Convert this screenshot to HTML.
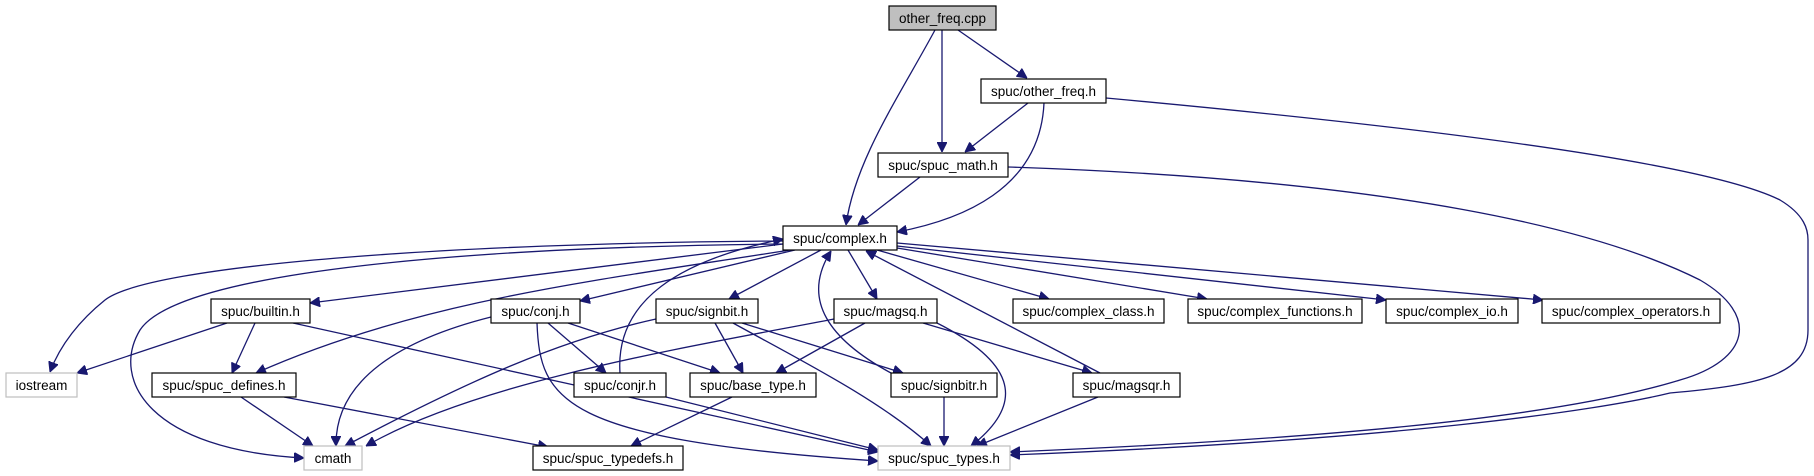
<!DOCTYPE html>
<html><head><meta charset="utf-8"><style>
html,body{margin:0;padding:0;background:#fff;}
svg{display:block;}
text{font-family:"Liberation Sans",Arial,sans-serif;font-size:13.5px;fill:#000;text-anchor:middle;}
.e{fill:none;stroke:#191970;stroke-width:1.3;marker-end:url(#a);}
.n{fill:#fff;stroke:#000;stroke-width:1.2;}
.g{fill:#fff;stroke:#bfbfbf;stroke-width:1.2;}
</style></head><body>
<svg width="1814" height="476" viewBox="0 0 1814 476" xmlns="http://www.w3.org/2000/svg">
<defs><marker id="a" viewBox="0 0 10 10" refX="10" refY="5" markerWidth="10" markerHeight="10" markerUnits="userSpaceOnUse" orient="auto"><path d="M0,0 L10,5 L0,10 z" fill="#191970" stroke="#191970"/></marker></defs>

<!-- edges -->
<path class="e" d="M935,30 C900,95 855,160 846,225"/>
<path class="e" d="M942,30 L942,152"/>
<path class="e" d="M958,30 L1027,78"/>
<path class="e" d="M1028,103 L965,152"/>
<path class="e" d="M1044,103 C1040,190 960,220 897,232"/>
<path class="e" d="M920,177 L858,225"/>
<path class="e" d="M1106,98 C1400,125 1700,160 1780,200 C1805,215 1808,230 1808,240 L1808,330 C1808,375 1760,385 1670,393 C1600,410 1400,440 1010,455"/>
<path class="e" d="M1008,167 C1400,180 1600,230 1700,280 C1760,315 1750,360 1680,380 C1550,420 1300,440 1010,452"/>

<path class="e" d="M783,241 C450,243 150,265 105,300 C80,320 60,345 50,372"/>
<path class="e" d="M783,244 C480,247 180,270 140,330 C110,380 150,450 304,458"/>
<path class="e" d="M783,244 L310,303"/>
<path class="e" d="M790,250 C600,280 420,300 256,373"/>
<path class="e" d="M795,250 L580,301"/>
<path class="e" d="M821,250 L729,299"/>
<path class="e" d="M848,250 L877,299"/>
<path class="e" d="M877,250 L1049,299"/>
<path class="e" d="M897,248 L1207,299"/>
<path class="e" d="M897,246 L1386,300"/>
<path class="e" d="M897,243 L1543,300"/>

<path class="e" d="M620,373 C615,300 680,260 783,239"/>
<path class="e" d="M1100,373 L866,251"/>
<path class="e" d="M891,373 C830,340 800,300 831,251"/>

<path class="e" d="M227,323 L77,373"/>
<path class="e" d="M255,323 L232,373"/>
<path class="e" d="M293,323 L878,452"/>
<path class="e" d="M241,397 L313,446"/>
<path class="e" d="M284,397 L548,447"/>
<path class="e" d="M491,317 C400,340 335,380 336,446"/>
<path class="e" d="M548,323 L606,373"/>
<path class="e" d="M568,323 L720,373"/>
<path class="e" d="M537,323 C540,400 560,440 878,461"/>
<path class="e" d="M656,319 C560,340 470,380 345,446"/>
<path class="e" d="M715,323 L743,373"/>
<path class="e" d="M742,323 L903,373"/>
<path class="e" d="M733,323 C800,360 880,400 931,446"/>
<path class="e" d="M834,319 C700,345 480,380 366,446"/>
<path class="e" d="M865,323 L776,373"/>
<path class="e" d="M923,323 L1092,373"/>
<path class="e" d="M937,323 C1010,360 1030,400 971,446"/>
<path class="e" d="M666,397 L878,450"/>
<path class="e" d="M732,397 L631,446"/>
<path class="e" d="M944,397 L944,446"/>
<path class="e" d="M1098,397 L977,446"/>

<!-- nodes -->
<rect x="889" y="6" width="107" height="24" fill="#bfbfbf" stroke="#000" stroke-width="1.2"/><text x="942.5" y="23">other_freq.cpp</text>
<rect class="n" x="981" y="79" width="125" height="24"/><text x="1043.5" y="96">spuc/other_freq.h</text>
<rect class="n" x="878" y="153" width="130" height="24"/><text x="943" y="170">spuc/spuc_math.h</text>
<rect class="n" x="783" y="226" width="114" height="24" stroke-width="1.6"/><text x="840" y="243">spuc/complex.h</text>

<rect class="n" x="211" y="299" width="99" height="24"/><text x="260.5" y="316">spuc/builtin.h</text>
<rect class="n" x="491" y="299" width="89" height="24"/><text x="535.5" y="316">spuc/conj.h</text>
<rect class="n" x="656" y="299" width="102" height="24"/><text x="707" y="316">spuc/signbit.h</text>
<rect class="n" x="834" y="299" width="103" height="24"/><text x="885.5" y="316">spuc/magsq.h</text>
<rect class="n" x="1013" y="299" width="151" height="24"/><text x="1088.5" y="316">spuc/complex_class.h</text>
<rect class="n" x="1188" y="299" width="174" height="24"/><text x="1275" y="316">spuc/complex_functions.h</text>
<rect class="n" x="1386" y="299" width="132" height="24"/><text x="1452" y="316">spuc/complex_io.h</text>
<rect class="n" x="1542" y="299" width="178" height="24"/><text x="1631" y="316">spuc/complex_operators.h</text>

<rect class="g" x="6" y="373" width="71" height="24"/><text x="41.5" y="390">iostream</text>
<rect class="n" x="152" y="373" width="144" height="24"/><text x="224" y="390">spuc/spuc_defines.h</text>
<rect class="n" x="574" y="373" width="92" height="24"/><text x="620" y="390">spuc/conjr.h</text>
<rect class="n" x="690" y="373" width="126" height="24"/><text x="753" y="390">spuc/base_type.h</text>
<rect class="n" x="891" y="373" width="106" height="24"/><text x="944" y="390">spuc/signbitr.h</text>
<rect class="n" x="1073" y="373" width="107" height="24"/><text x="1126.5" y="390">spuc/magsqr.h</text>

<rect class="g" x="304" y="446" width="58" height="24"/><text x="333" y="463">cmath</text>
<rect class="n" x="533" y="446" width="150" height="24"/><text x="608" y="463">spuc/spuc_typedefs.h</text>
<rect class="g" x="878" y="446" width="132" height="24"/><text x="944" y="463">spuc/spuc_types.h</text>
</svg>
</body></html>
